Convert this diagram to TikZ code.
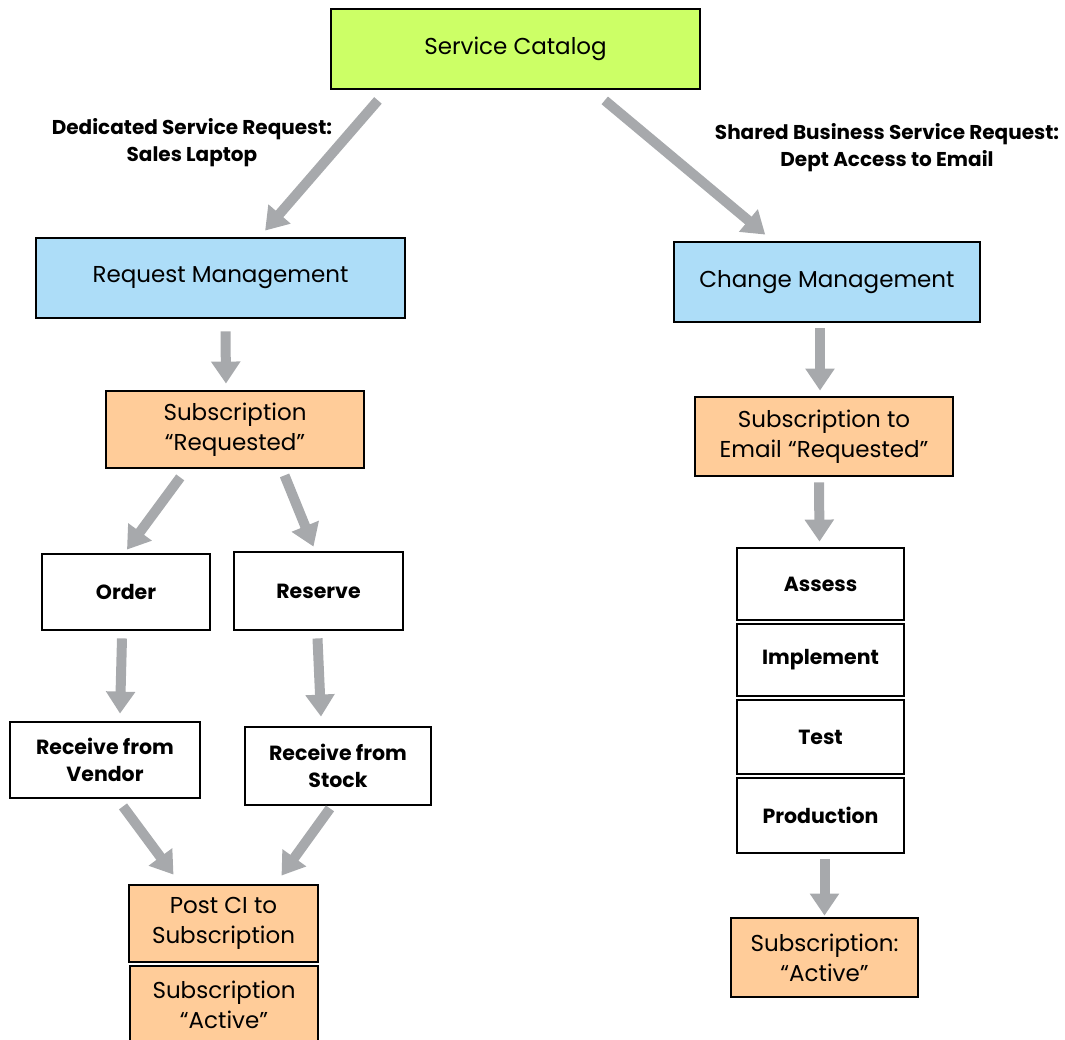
\documentclass[tikz,border=0pt]{standalone}
\usepackage{fontspec}
\setmainfont{Poppins}
\usetikzlibrary{arrows.meta,calc}
\definecolor{lime}{HTML}{CCFF66}
\definecolor{skyblue}{HTML}{ADDDF8}
\definecolor{peach}{HTML}{FFCC99}
\definecolor{arrowgray}{HTML}{A7A9AC}
\begin{document}
\begin{tikzpicture}[x=1pt,y=-1pt,
  box/.style={draw=black,line width=2.8pt,inner sep=0pt,align=center,
    font=\fontsize{23}{30}\selectfont},
  plain/.style={box,fill=white,font=\fontsize{20.5}{27}\selectfont\bfseries},
  catalog/.style={box,fill=lime},
  process/.style={box,fill=skyblue},
  status/.style={box,fill=peach},
  caption/.style={align=center,font=\fontsize{20}{27}\selectfont\bfseries},
  flow/.style={draw=arrowgray,line width=10pt,
    -{Triangle[width=28pt,length=22pt]}},
]
\useasboundingbox (0,0) rectangle (1065,1040);

% top level
\node[catalog,minimum width=369,minimum height=80] (sc) at (515.5,49) {Service Catalog};
\node[process,minimum width=369,minimum height=80] (rm) at (220.5,278) {Request Management};
\node[process,minimum width=306,minimum height=80] (cm) at (827,282) {Change Management};

\node[caption] (lblL) at (192,143) {Dedicated Service Request:\\Sales Laptop};
\node[caption] (lblR) at (887,148) {Shared Business Service Request:\\Dept Access to Email};

% dedicated request branch
\node[status,minimum width=258,minimum height=77] (sr) at (235,429.5) {Subscription\\“Requested”};
\node[plain,minimum width=168,minimum height=76] (ord) at (126,592) {Order};
\node[plain,minimum width=169,minimum height=78] (res) at (318.5,591) {Reserve};
\node[plain,minimum width=190,minimum height=76] (rv) at (105,760) {Receive from\\Vendor};
\node[plain,minimum width=186,minimum height=78] (rs) at (338,766) {Receive from\\Stock};
\node[status,minimum width=189,minimum height=77] (pci) at (223.5,923.5) {Post CI to\\Subscription};
\node[status,minimum width=188,minimum height=78] (sal) at (224,1005) {Subscription\\“Active”};

% shared request branch
\node[status,minimum width=258,minimum height=79] (se) at (824,436.5) {Subscription to\\Email “Requested”};
\node[plain,minimum width=167,minimum height=72] (as) at (820.5,584) {Assess};
\node[plain,minimum width=167,minimum height=72] (im) at (820.5,660) {Implement};
\node[plain,minimum width=167,minimum height=74] (te) at (820.5,737) {Test};
\node[plain,minimum width=167,minimum height=75] (pr) at (820.5,815.5) {Production};
\node[status,minimum width=187,minimum height=79] (sar) at (824.5,957.5) {Subscription:\\“Active”};

% connectors
\draw[flow] ($(sc.south west)!0.13!(sc.south east)+(0,10)$) -- ($(rm.north west)!0.62!(rm.north east)+(0,-6)$);
\draw[flow] ($(sc.south west)!0.74!(sc.south east)+(0,10)$) -- ($(cm.north west)!0.30!(cm.north east)+(0,-6)$);
\draw[flow] ($(rm.south)+(5,12)$) -- ($(sr.north)+(-9,-6)$);
\draw[flow] ($(sr.south west)!0.29!(sr.south east)+(0,8)$) -- ($(ord.north)+(1,-3)$);
\draw[flow] ($(sr.south west)!0.69!(sr.south east)+(0,6)$) -- ($(res.north)+(-5,-4)$);
\draw[flow] ($(ord.south)+(-4,7)$) -- ($(rv.north)+(15,-7)$);
\draw[flow] ($(res.south)+(-1,7)$) -- ($(rs.north)+(-17,-9)$);
\draw[flow] ($(rv.south)+(18,7)$) -- ($(pci.north)+(-50,-9)$);
\draw[flow] ($(rs.south)+(-8,2)$) -- ($(pci.north)+(58,-8)$);
\draw[flow] ($(cm.south)+(-7,5)$) -- ($(se.north)+(-4,-5)$);
\draw[flow] ($(se.south)+(-5,5)$) -- ($(as.north)+(-1,-5)$);
\draw[flow] ($(pr.south)+(4,5)$) -- ($(sar.north)+(0,-1)$);
\end{tikzpicture}
\end{document}
